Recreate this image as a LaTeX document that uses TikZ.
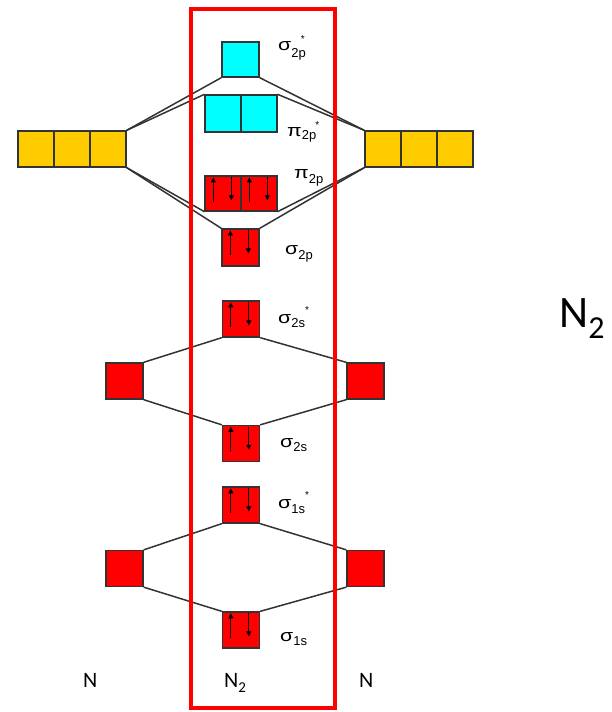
\documentclass[tikz,border=0pt]{standalone}
\usepackage{graphicx}
\usepackage{fontspec}
\usetikzlibrary{arrows.meta,calc}
\newfontfamily\calfont{Carlito}
\newfontfamily\grkfont{Liberation Sans}
\definecolor{orbcyan}{HTML}{00FFFF}
\definecolor{orbgold}{HTML}{FFCC00}
\definecolor{orbred}{HTML}{FF0000}
\definecolor{linegray}{HTML}{333333}

% orbital label pieces: widened Greek letter, lowered subscript, small star
\newcommand\orbsym[1]{\scalebox{1.25}[1]{\fontsize{17}{17}\selectfont #1}}
\newcommand\orbsub[2]{\raisebox{-#2}{\fontsize{13}{13}\selectfont #1}}
\newcommand\orbstar[2]{\kern#1\raisebox{#2}{\fontsize{10}{10}\selectfont *}}

% a paired up/down electron inside an orbital box
\newcommand\spinpair[1]{%
  \draw[electron] ($(#1.north west)+(9,27)$) -- ($(#1.north west)+(9,2)$);
  \draw[electron] ($(#1.north west)+(27,2)$) -- ($(#1.north west)+(27,25)$);}

\begin{document}
\begin{tikzpicture}[x=1pt,y=-1pt,
  orb/.style={draw=linegray,line width=1.3pt,inner sep=0pt,
              minimum width=37pt,minimum height=36pt},
  half/.style={orb,minimum width=36pt},
  link/.style={draw=linegray,line width=1.5pt},
  electron/.style={line width=1pt,-{Triangle[length=5pt,width=5pt]}},
  frame/.style={draw=orbred,line width=4pt},
  lab/.style={anchor=base west,inner sep=0pt,font=\grkfont},
  atomlab/.style={anchor=base west,inner sep=0pt,font=\calfont\fontsize{22}{22}\selectfont}]
\useasboundingbox (0,0) rectangle (611,712);

% 2p atomic orbitals
\node[half,fill=orbgold] (gL1) at (36,149) {};
\node[half,fill=orbgold] (gL2) at (72,149) {};
\node[half,fill=orbgold] (gL3) at (108,149) {};
\node[half,fill=orbgold] (gR1) at (383,149) {};
\node[half,fill=orbgold] (gR2) at (419,149) {};
\node[half,fill=orbgold] (gR3) at (455,149) {};

% 2p molecular orbitals
\node[orb,fill=orbcyan,minimum height=35pt] (sgPs) at (240.5,59.5) {};
\node[half,fill=orbcyan,minimum height=37pt] (piSa) at (223,113.5) {};
\node[half,fill=orbcyan,minimum height=37pt] (piSb) at (259,113.5) {};
\node[half,fill=orbred,minimum height=35pt] (piA) at (223,193.5) {};
\node[half,fill=orbred,minimum height=35pt] (piB) at (259,193.5) {};
\node[orb,fill=orbred,minimum height=37pt] (sgP) at (240.5,247.5) {};

% 2s levels
\node[orb,fill=orbred] (s2ss) at (241,319) {};
\node[orb,fill=orbred] (s2sL) at (124.5,381) {};
\node[orb,fill=orbred] (s2sR) at (365.5,381) {};
\node[orb,fill=orbred] (s2s) at (241,443.5) {};

% 1s levels
\node[orb,fill=orbred] (s1ss) at (241,505) {};
\node[orb,fill=orbred] (s1sL) at (124.5,568.5) {};
\node[orb,fill=orbred] (s1sR) at (365.5,568.5) {};
\node[orb,fill=orbred] (s1s) at (241,630) {};

% correlation lines
\draw[link] (gL3.north east) -- (sgPs.south west);
\draw[link] (gL3.north east) -- (piSa.north west);
\draw[link] (sgPs.south east) -- (gR1.north west);
\draw[link] (piSb.north east) -- (gR1.north west);
\draw[link] (gL3.south east) -- (piA.south west);
\draw[link] (gL3.south east) -- (sgP.north west);
\draw[link] (piB.south east) -- (gR1.south west);
\draw[link] (sgP.north east) -- (gR1.south west);

\draw[link] (s2sL.north east) -- (s2ss.south west);
\draw[link] (s2sL.south east) -- (s2s.north west);
\draw[link] (s2ss.south east) -- (s2sR.north west);
\draw[link] (s2s.north east) -- (s2sR.south west);

\draw[link] (s1sL.north east) -- (s1ss.south west);
\draw[link] (s1sL.south east) -- (s1s.north west);
\draw[link] (s1ss.south east) -- (s1sR.north west);
\draw[link] (s1s.north east) -- (s1sR.south west);

% electrons
\spinpair{piA}
\spinpair{piB}
\spinpair{sgP}
\spinpair{s2ss}
\spinpair{s2s}
\spinpair{s1ss}
\spinpair{s1s}

% frame around the molecule column
\draw[frame] (190.5,9) rectangle (334.5,708);

% orbital labels
\node[lab] (lsgPs) at (278,50) {\orbsym{σ}\orbsub{2p}{7pt}\orbstar{-5pt}{8pt}};
\node[lab] (lpiS) at (287,136) {\orbsym{π}\orbsub{2p}{3pt}\orbstar{-1pt}{8pt}};
\node[lab] (lpi) at (294,178) {\orbsym{π}\orbsub{2p}{5pt}};
\node[lab] (lsgP) at (285,254) {\orbsym{σ}\orbsub{2p}{5pt}};
\node[lab] (ls2ss) at (278,323) {\orbsym{σ}\orbsub{2s}{4pt}\orbstar{0pt}{10pt}};
\node[lab] (ls2s) at (280,447) {\orbsym{σ}\orbsub{2s}{4pt}};
\node[lab] (ls1ss) at (278,508) {\orbsym{σ}\orbsub{1s}{5pt}\orbstar{0pt}{10pt}};
\node[lab] (ls1s) at (280,641) {\orbsym{σ}\orbsub{1s}{4pt}};

% atom and molecule names
\node[atomlab] (nL) at (83,687) {N};
\node[atomlab] (nM) at (224,687) {N\raisebox{-5pt}{\fontsize{15}{15}\selectfont 2}};
\node[atomlab] (nR) at (359,687) {N};
\node[anchor=base west,inner sep=0pt,font=\calfont\fontsize{45}{45}\selectfont] (title) at (559,327)
  {N\raisebox{-11pt}{\fontsize{32}{32}\selectfont 2}};
\end{tikzpicture}
\end{document}
